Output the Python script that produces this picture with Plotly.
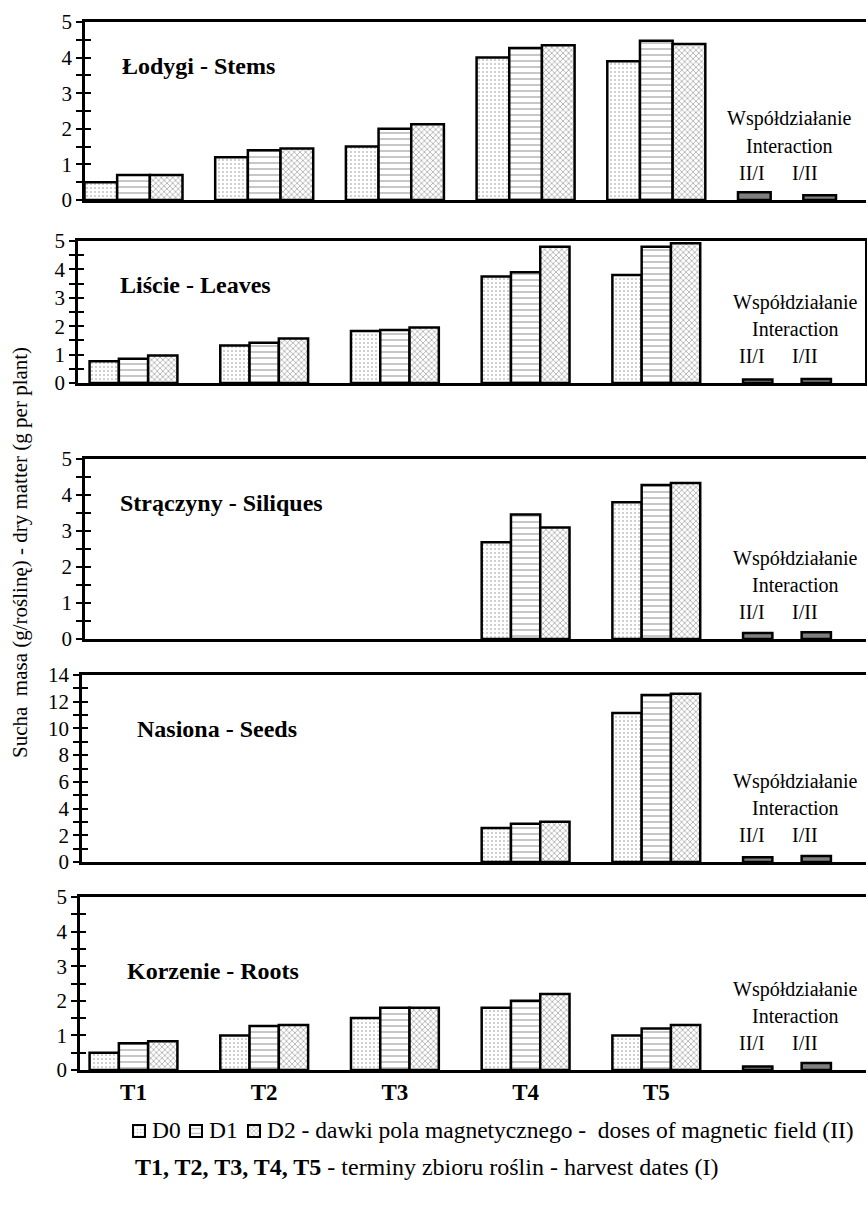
import plotly.graph_objects as go

# ---------------- data ----------------
categories = ["T1", "T2", "T3", "T4", "T5"]
interaction_cat = "Int"
interaction_labels = ["II/I", "I/II"]
dose_names = ["D0", "D1", "D2"]
legend_texts = ["D0", "D1", "D2 - dawki pola magnetycznego -  doses of magnetic field (II)"]

stems_d0 = [0.5, 1.2, 1.5, 4.0, 3.9]
stems_d1 = [0.7, 1.4, 2.0, 4.27, 4.47]
stems_d2 = [0.7, 1.45, 2.13, 4.35, 4.38]
stems_int = [0.22, 0.13]

leaves_d0 = [0.77, 1.32, 1.83, 3.75, 3.8]
leaves_d1 = [0.85, 1.42, 1.87, 3.9, 4.8]
leaves_d2 = [0.97, 1.57, 1.95, 4.8, 4.92]
leaves_int = [0.12, 0.14]

siliques_d0 = [None, None, None, 2.69, 3.8]
siliques_d1 = [None, None, None, 3.46, 4.28]
siliques_d2 = [None, None, None, 3.1, 4.33]
siliques_int = [0.17, 0.19]

seeds_d0 = [None, None, None, 2.55, 11.15]
seeds_d1 = [None, None, None, 2.87, 12.5]
seeds_d2 = [None, None, None, 3.02, 12.6]
seeds_int = [0.35, 0.45]

roots_d0 = [0.5, 1.0, 1.5, 1.8, 1.0]
roots_d1 = [0.77, 1.27, 1.8, 2.0, 1.2]
roots_d2 = [0.83, 1.3, 1.8, 2.2, 1.3]
roots_int = [0.1, 0.2]

panel_titles = ["Łodygi - Stems", "Liście - Leaves", "Strączyny - Siliques",
                "Nasiona - Seeds", "Korzenie - Roots"]
y_max = [5, 5, 5, 14, 5]
y_major = [1, 1, 1, 2, 1]
y_minor = [0.5, 0.5, 0.5, 1, 0.5]

series = [
    (stems_d0, stems_d1, stems_d2, stems_int),
    (leaves_d0, leaves_d1, leaves_d2, leaves_int),
    (siliques_d0, siliques_d1, siliques_d2, siliques_int),
    (seeds_d0, seeds_d1, seeds_d2, seeds_int),
    (roots_d0, roots_d1, roots_d2, roots_int),
]

# ---------------- layout geometry (pixels) ----------------
W, H = 867, 1207
C0, STEP = 133.5, 130.7  # pixel of first category centre, category spacing
panels = [
    dict(top=22, bottom=200, left=85, right=866, w=0.25, title=(120, 66), mirror=False, xint=789),
    dict(top=241, bottom=383, left=78, right=865, w=0.224, title=(118, 285), mirror=True, xint=795),
    dict(top=459, bottom=639, left=85, right=866, w=0.224, title=(118, 503), mirror=False, xint=795),
    dict(top=675, bottom=862, left=82, right=866, w=0.224, title=(135, 729), mirror=False, xint=795),
    dict(top=897, bottom=1070, left=80, right=866, w=0.224, title=(125, 971), mirror=False, xint=795),
]

FONT = "Liberation Serif, Times New Roman, serif"

def px_x(p):
    return p / W

def px_y(p):
    return 1 - p / H

patterns = [
    dict(shape=".", size=4, solidity=0.22, fgcolor="#8c8c8c", bgcolor="white"),
    dict(shape="-", size=6, solidity=0.28, fgcolor="#7a7a7a", bgcolor="white"),
    dict(shape="x", size=4, solidity=0.4, fgcolor="#666666", bgcolor="white"),
]

fig = go.Figure()
layout = dict()
annotations = []
all_cats = categories + [interaction_cat]

for k, (pan, vals) in enumerate(zip(panels, series)):
    n = k + 1
    xa = "x" if n == 1 else f"x{n}"
    ya = "y" if n == 1 else f"y{n}"
    w = pan["w"]
    for j in range(3):
        fig.add_trace(go.Bar(
            x=categories, y=vals[j], xaxis=xa, yaxis=ya,
            name=dose_names[j], showlegend=False,
            width=w, offset=(j - 1.5) * w,
            marker=dict(color="white", line=dict(color="black", width=2.5),
                        pattern=patterns[j]),
        ))
    for j, lab in enumerate(interaction_labels):
        fig.add_trace(go.Bar(
            x=[interaction_cat], y=[vals[3][j]], xaxis=xa, yaxis=ya,
            name=lab, showlegend=False, width=w,
            offset=(-1.5 if j == 0 else 0.5) * w,
            marker=dict(color="#808080", line=dict(color="black", width=2.5)),
        ))
    fig.add_trace(go.Scatter(x=[], y=[], xaxis=xa, yaxis=f"y{n + 5}", showlegend=False))

    xr = [(pan["left"] - C0) / STEP, (pan["right"] - C0) / STEP]
    dom_x = [px_x(pan["left"]), px_x(pan["right"])]
    dom_y = [px_y(pan["bottom"]), px_y(pan["top"])]
    xkey = "xaxis" if n == 1 else f"xaxis{n}"
    ykey = "yaxis" if n == 1 else f"yaxis{n}"
    bottom = (n == 5)
    layout[xkey] = dict(
        domain=dom_x, anchor=ya, type="category", categoryorder="array",
        categoryarray=all_cats, range=xr, showline=True, linecolor="black",
        linewidth=2.5, mirror=True, ticks="", showgrid=False, zeroline=False,
        showticklabels=bottom, tickmode="array", tickvals=categories,
        ticktext=categories, automargin=False,
        tickfont=dict(family=FONT, size=23, color="black", weight="bold"),
    )
    yr = [0, y_max[k]]
    layout[ykey] = dict(
        domain=dom_y, anchor=xa, range=yr, showline=True, linecolor="black",
        linewidth=2.5, mirror=pan["mirror"], ticks="outside", ticklen=6, tickwidth=2,
        tickcolor="black", dtick=y_major[k], tick0=0, showgrid=False, zeroline=False,
        automargin=False,
        tickfont=dict(family=FONT, size=21, color="black"),
        minor=dict(ticks="outside", ticklen=6, tickwidth=2, tickcolor="black",
                   dtick=y_minor[k], tick0=0, showgrid=False),
    )
    layout[f"yaxis{n + 5}"] = dict(
        overlaying=ya, anchor=xa, side="left", range=yr, showline=False,
        ticks="inside", ticklen=6, tickwidth=2, tickcolor="black", automargin=False,
        dtick=y_major[k], tick0=0, showticklabels=False, showgrid=False, zeroline=False,
        minor=dict(ticks="inside", ticklen=6, tickwidth=2, tickcolor="black",
                   dtick=y_minor[k], tick0=0, showgrid=False),
    )
    tx, ty = pan["title"]
    annotations.append(dict(
        text=f"<b>{panel_titles[k]}</b>", x=px_x(tx), y=px_y(ty), xref="paper",
        yref="paper", xanchor="left", yanchor="middle", showarrow=False,
        font=dict(family=FONT, size=24, color="black"),
    ))
    b = pan["bottom"]
    for txt, off in (("Współdziałanie", 81), ("Interaction", 54)):
        annotations.append(dict(
            text=txt, x=px_x(pan["xint"]), y=px_y(b - off), xref="paper", yref="paper",
            xanchor="center", yanchor="middle", showarrow=False,
            font=dict(family=FONT, size=20, color="black"),
        ))
    for txt, xx in zip(interaction_labels, (752, 805)):
        annotations.append(dict(
            text=txt, x=px_x(xx), y=px_y(b - 27), xref="paper", yref="paper",
            xanchor="center", yanchor="middle", showarrow=False,
            font=dict(family=FONT, size=20, color="black"),
        ))

legend_layout = {}
legend_sq = [143, 200, 258]
legend_txt = [150, 207, 265]
for j in range(3):
    lname = "legend" if j == 0 else f"legend{j + 1}"
    fig.add_trace(go.Bar(
        x=[None], y=[None], xaxis="x", yaxis="y", name=" ", legend=lname,
        showlegend=True,
        marker=dict(color="white", line=dict(color="black", width=2),
                    pattern=patterns[j]),
    ))
    legend_layout[lname] = dict(
        x=px_x(legend_sq[j] - 24), y=px_y(1131), xanchor="left", yanchor="middle",
        orientation="h", font=dict(family=FONT, size=10, color="black"),
        itemwidth=30, bgcolor="rgba(0,0,0,0)",
    )
    annotations.append(dict(
        text=legend_texts[j], x=px_x(legend_txt[j]), y=px_y(1130), xref="paper",
        yref="paper", xanchor="left", yanchor="middle", showarrow=False,
        font=dict(family=FONT, size=23.5, color="black"),
    ))

annotations.append(dict(
    text="Sucha  masa (g/roślinę) - dry matter (g per plant)", textangle=-90,
    x=px_x(20), y=px_y(553), xref="paper", yref="paper", xanchor="center",
    yanchor="middle", showarrow=False, font=dict(family=FONT, size=21, color="black"),
))
annotations.append(dict(
    text="<b>T1, T2, T3, T4, T5</b> - terminy zbioru roślin - harvest dates (I)",
    x=px_x(133), y=px_y(1167), xref="paper", yref="paper", xanchor="left",
    yanchor="middle", showarrow=False, font=dict(family=FONT, size=24, color="black"),
))

fig.update_layout(
    width=W, height=H, margin=dict(l=0, r=0, t=0, b=0, pad=0, autoexpand=False),
    paper_bgcolor="white", plot_bgcolor="white", barmode="overlay",
    annotations=annotations, showlegend=True,
    **legend_layout,
    **layout,
)

fig.write_html("out.html", config={"displayModeBar": False},
               post_script="document.body.style.margin='0px';")
